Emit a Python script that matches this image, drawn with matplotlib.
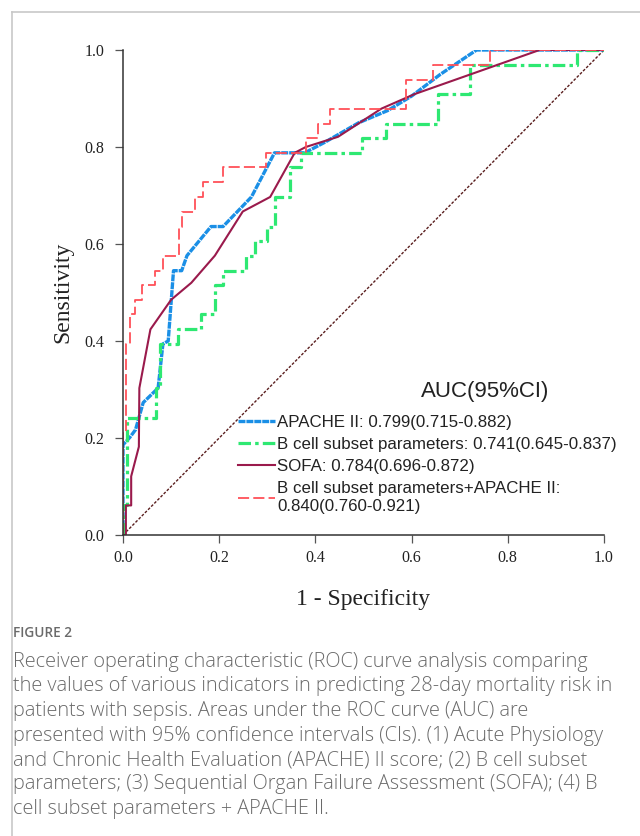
import matplotlib
matplotlib.use("Agg")
import matplotlib.pyplot as plt
from matplotlib.lines import Line2D

plt.rcParams['lines.scale_dashes'] = False

# ROC curve vertices (1 - specificity, sensitivity)
apache_fpr = [0, 0, 0.014, 0.026, 0.042, 0.073, 0.083, 0.094, 0.105, 0.122, 0.133,
              0.183, 0.208, 0.267, 0.315, 0.378, 0.42, 0.49, 0.55, 0.60, 0.66, 0.735, 1.0]
apache_tpr = [0, 0.186, 0.201, 0.217, 0.273, 0.303, 0.394, 0.40, 0.545, 0.545, 0.576,
              0.636, 0.636, 0.697, 0.788, 0.788, 0.81, 0.85, 0.875, 0.905, 0.95, 1.0, 1.0]

bcell_fpr = [0, 0, 0.008, 0.008, 0.068, 0.068, 0.077, 0.077, 0.114, 0.114, 0.163, 0.163,
             0.191, 0.191, 0.208, 0.208, 0.256, 0.256, 0.274, 0.274, 0.299, 0.299, 0.315,
             0.315, 0.347, 0.347, 0.371, 0.371, 0.496, 0.496, 0.546, 0.546, 0.654, 0.654,
             0.721, 0.721, 0.943, 0.943, 1.0]
bcell_tpr = [0, 0.061, 0.061, 0.242, 0.242, 0.303, 0.303, 0.394, 0.394, 0.424, 0.424, 0.455,
             0.455, 0.515, 0.515, 0.545, 0.545, 0.576, 0.576, 0.606, 0.606, 0.636, 0.636,
             0.697, 0.697, 0.758, 0.758, 0.788, 0.788, 0.818, 0.818, 0.848, 0.848, 0.909,
             0.909, 0.970, 0.970, 1.0, 1.0]

sofa_fpr = [0, 0.006, 0.006, 0.017, 0.017, 0.033, 0.034, 0.057, 0.10, 0.142, 0.191, 0.249,
            0.306, 0.357, 0.38, 0.447, 0.537, 0.606, 0.866, 1.0]
sofa_tpr = [0, 0, 0.061, 0.061, 0.121, 0.182, 0.303, 0.424, 0.485, 0.52, 0.576, 0.667,
            0.697, 0.788, 0.80, 0.821, 0.879, 0.909, 1.0, 1.0]

comb_fpr = [0, 0, 0.007, 0.007, 0.015, 0.015, 0.024, 0.024, 0.040, 0.040, 0.066, 0.066,
            0.083, 0.083, 0.116, 0.116, 0.123, 0.123, 0.149, 0.149, 0.166, 0.166, 0.208,
            0.208, 0.298, 0.298, 0.381, 0.381, 0.405, 0.405, 0.430, 0.430, 0.588, 0.588,
            0.645, 0.645, 0.762, 0.762, 1.0]
comb_tpr = [0, 0.212, 0.212, 0.394, 0.394, 0.455, 0.455, 0.485, 0.485, 0.515, 0.515, 0.545,
            0.545, 0.576, 0.576, 0.636, 0.636, 0.667, 0.667, 0.697, 0.697, 0.727, 0.727,
            0.758, 0.758, 0.788, 0.788, 0.818, 0.818, 0.848, 0.848, 0.879, 0.879, 0.939,
            0.939, 0.970, 0.970, 1.0, 1.0]

labels = ["APACHE II: 0.799(0.715-0.882)",
          "B cell subset parameters: 0.741(0.645-0.837)",
          "SOFA: 0.784(0.696-0.872)",
          "B cell subset parameters+APACHE II:\n0.840(0.760-0.921)"]
ticks = [0.0, 0.2, 0.4, 0.6, 0.8, 1.0]

caption = ("Receiver operating characteristic (ROC) curve analysis comparing\n"
           "the values of various indicators in predicting 28-day mortality risk in\n"
           "patients with sepsis. Areas under the ROC curve (AUC) are\n"
           "presented with 95% confidence intervals (CIs). (1) Acute Physiology\n"
           "and Chronic Health Evaluation (APACHE) II score; (2) B cell subset\n"
           "parameters; (3) Sequential Organ Failure Assessment (SOFA); (4) B\n"
           "cell subset parameters + APACHE II.")

fig = plt.figure(figsize=(6.4, 8.36), dpi=100)
ax = fig.add_axes([123 / 640, 1 - 535 / 836, 481 / 640, 485 / 836])

ax.plot([0, 1], [0, 1], color='#5a1e1e', lw=1.0, linestyle=(0, (2, 1.2)))
l1, = ax.plot(apache_fpr, apache_tpr, color='#1a8fe6', lw=2.4, linestyle=(0, (5, 0.7)),
              label=labels[0])
l2, = ax.plot(bcell_fpr, bcell_tpr, color='#2ee872', lw=2.3, linestyle=(0, (9, 3, 2.5, 3)),
              label=labels[1])
l3, = ax.plot(sofa_fpr, sofa_tpr, color='#9a1a4c', lw=1.5, label=labels[2])
l4, = ax.plot(comb_fpr, comb_tpr, color='#ff5058', lw=1.3, linestyle=(0, (8, 3)),
              label=labels[3])

ax.set_xlim(0, 1)
ax.set_ylim(0, 1)
ax.set_xticks(ticks)
ax.set_yticks(ticks)
ax.set_xticklabels([f"{t:.1f}" for t in ticks])
ax.set_yticklabels([f"{t:.1f}" for t in ticks])
for s in ['top', 'right']:
    ax.spines[s].set_visible(False)
for s in ['left', 'bottom']:
    ax.spines[s].set_color('#333333')
    ax.spines[s].set_linewidth(1.1)
ax.tick_params(direction='out', length=5.5, width=0.9, color='#555555',
               labelsize=11.5, labelcolor='#222222')
ax.tick_params(axis='y', pad=8)
ax.tick_params(axis='x', pad=5)
for lab in ax.get_xticklabels() + ax.get_yticklabels():
    lab.set_family('Liberation Serif')

ax.set_xlabel('1 - Specificity', family='Liberation Serif', fontsize=17, labelpad=17,
              color='#222222')
ax.set_ylabel('Sensitivity', family='Liberation Serif', fontsize=17, labelpad=8,
              color='#222222')

fig.text(485 / 640, 1 - 392 / 836, 'AUC(95%CI)', family='Liberation Sans', fontsize=16,
         ha='center', va='center', color='#222222')
leg = ax.legend(handles=[l1, l2, l3, l4], loc='upper left',
                bbox_to_anchor=(238 / 640, 1 - 415 / 836), bbox_transform=fig.transFigure,
                frameon=False, prop={'family': 'Liberation Sans', 'size': 12.2},
                handlelength=2.2, handletextpad=0.12, labelspacing=0.42,
                borderpad=0, borderaxespad=0)
for t in leg.get_texts():
    t.set_color('#222222')

# page frame lines
fig.add_artist(Line2D([12 / 640, 1], [1 - 12 / 836, 1 - 12 / 836], color='#c8c8c8',
                      lw=1.2, transform=fig.transFigure))
fig.add_artist(Line2D([12 / 640, 12 / 640], [0, 1 - 12 / 836], color='#c8c8c8',
                      lw=1.2, transform=fig.transFigure))

fig.text(13 / 640, 1 - 633 / 836, 'FIGURE 2', family='Open Sans', fontsize=9.8,
         weight='semibold', color='#6a6a6a', va='center')
fig.text(13 / 640, 1 - 652 / 836, caption, family='Open Sans', fontsize=14.3,
         weight='light', color='#6a6a6a', va='top', linespacing=1.3)

fig.savefig('out.png', dpi=100)
